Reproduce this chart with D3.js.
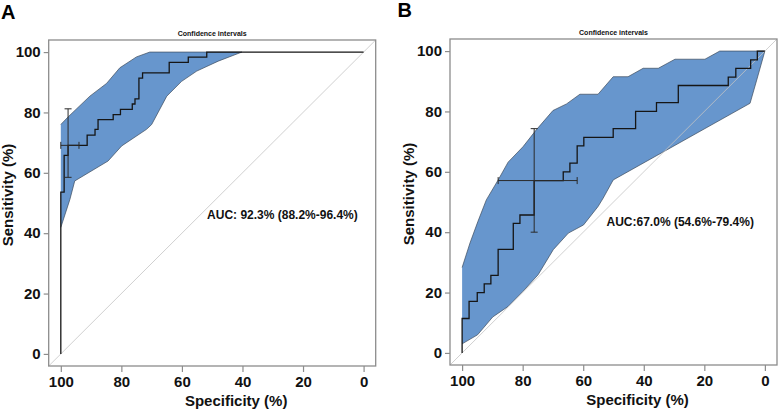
<!DOCTYPE html>
<html>
<head>
<meta charset="utf-8">
<script src="https://cdn.jsdelivr.net/npm/d3@7"></script>
<style>
  body { margin: 0; background: #fff; }
  svg { display: block; font-family: "Liberation Sans", Arial, sans-serif; }
</style>
</head>
<body>
<div id="chart"></div>
<script>
// ---- data (in %) ----
let specTicks = [100, 80, 60, 40, 20, 0];
let sensTicks = [0, 20, 40, 60, 80, 100];

// panel A : ROC step corners
let rocASpec = [100, 100, 98.9, 97.6, 91.3, 88.7, 87.7, 82.7, 80.3, 76.4, 75.5, 74.2, 73.0, 64.2, 57.9, 51.8, 0];
let rocASens = [0, 53.6, 65.8, 69.1, 72.5, 74.4, 77.6, 79.3, 81.0, 82.8, 84.5, 91.4, 93.1, 96.6, 98.3, 100, 100];
// panel A : confidence band
let ciAUpperSpec = [100, 97.6, 90.4, 84.9, 80.5, 75.0, 70.6, 40.2];
let ciAUpperSens = [76.0, 78.5, 85.4, 89.6, 94.8, 98.4, 100, 100];
let ciALowerSpec = [100, 97.0, 95.4, 84.4, 79.9, 71.7, 70.0, 65.0, 60.1, 55.1, 48.0, 40.2];
let ciALowerSens = [41.9, 51.2, 57.3, 63.9, 68.9, 74.4, 76.0, 85.4, 90.3, 93.7, 97.0, 100];
// panel A : best threshold with its intervals
let bestA = { spec: 97.6, sens: 69.1, specLo: 94.0, specHi: 100, sensLo: 58.5, sensHi: 81.2 };
let aucA = "AUC: 92.3% (88.2%-96.4%)";

// panel B : ROC step corners
let rocBSpec = [100, 100, 97.7, 95.0, 92.7, 90.5, 88.1, 83.1, 80.9, 76.2, 66.6, 64.4, 62.0, 59.8, 50.1, 42.7, 35.8, 28.6, 12.1, 9.6, 4.7, 2.5, 0];
let rocBSens = [0, 11.4, 17.1, 20.0, 22.9, 25.7, 34.3, 42.9, 45.7, 57.1, 60.0, 62.9, 68.6, 71.4, 74.3, 80.0, 82.9, 88.6, 91.4, 94.3, 97.1, 100, 100];
// panel B : confidence band
let ciBUpperSpec = [100, 97.4, 94.8, 92.0, 88.1, 84.8, 79.9, 75.5, 70.0, 65.5, 61.1, 55.1, 50.1, 45.2, 40.2, 35.2, 29.7, 19.8, 14.9, 0];
let ciBUpperSens = [28.3, 36.4, 43.5, 50.7, 57.3, 63.2, 68.3, 73.9, 80.3, 82.5, 85.7, 85.7, 91.5, 91.5, 94.3, 94.3, 97.3, 97.3, 100, 100];
let ciBLowerSpec = [100, 94.9, 89.9, 84.8, 79.9, 74.9, 69.9, 64.9, 59.9, 55.1, 53.4, 50.1, 4.9, 2.7, 0];
let ciBLowerSens = [3.0, 6.0, 11.9, 15.4, 20.4, 25.9, 34.2, 39.7, 42.4, 48.5, 51.3, 57.3, 82.7, 90.4, 100];
let bestB = { spec: 76.2, sens: 57.1, specLo: 62.0, specHi: 88.1, sensLo: 40.0, sensHi: 74.3 };
let aucB = "AUC:67.0% (54.6%-79.4%)";

// ---- layout ----
let width = 778, height = 412;
let bandFill = "#6796cd";
let svg = null;

let panels = [
  { letter: "A", letterX: 1, letterY: 18.5, box: { left: 48.7, right: 375.7, top: 40, bottom: 366 },
    rocSpec: rocASpec, rocSens: rocASens,
    upSpec: ciAUpperSpec, upSens: ciAUpperSens, loSpec: ciALowerSpec, loSens: ciALowerSens,
    best: bestA, auc: aucA, aucX: 51.7, aucY: 44.6 },
  { letter: "B", letterX: 397.5, letterY: 17, box: { left: 450, right: 777, top: 39, bottom: 365 },
    rocSpec: rocBSpec, rocSens: rocBSens,
    upSpec: ciBUpperSpec, upSens: ciBUpperSens, loSpec: ciBLowerSpec, loSens: ciBLowerSens,
    best: bestB, auc: aucB, aucX: 52.3, aucY: 42.0 }
];

appendSvg();
panels.forEach(drawPanel);

function appendSvg() {
  svg = d3.select("#chart")
    .append("svg")
    .attr("width", width)
    .attr("height", height);
  svg.append("rect").attr("width", width).attr("height", height).attr("fill", "#fff");
}

function drawPanel(p) {
  let b = p.box;
  let x = d3.scaleLinear().domain([104, -4]).range([b.left, b.right]);
  let y = d3.scaleLinear().domain([-4, 104]).range([b.bottom, b.top]);
  let g = svg.append("g").attr("class", "panel");

  // confidence band
  let band = p.upSpec.map((s, i) => [s, p.upSens[i]])
    .concat(p.loSpec.map((s, i) => [s, p.loSens[i]]).reverse());
  g.append("path")
    .datum(band)
    .attr("d", d3.line().x(d => x(d[0])).y(d => y(d[1])) )
    .attr("fill", bandFill)
    .attr("stroke", "#3c4a5c")
    .attr("stroke-width", 0.7)
    .attr("stroke-linejoin", "round");

  // chance diagonal, corner to corner
  g.append("line")
    .attr("x1", x(104)).attr("y1", y(-4))
    .attr("x2", x(-4)).attr("y2", y(104))
    .attr("stroke", "#c4c4c4")
    .attr("stroke-width", 0.8);

  // roc curve
  let roc = p.rocSpec.map((s, i) => [s, p.rocSens[i]]);
  g.append("path")
    .datum(roc)
    .attr("d", d3.line().x(d => x(d[0])).y(d => y(d[1])).curve(d3.curveStepAfter))
    .attr("fill", "none")
    .attr("stroke", "#151515")
    .attr("stroke-width", 1.3);

  // error bars at best threshold
  let e = p.best, cap = 3.5;
  let eb = g.append("g").attr("stroke", "#2a2a2a").attr("stroke-width", 1);
  eb.append("line").attr("x1", x(e.spec)).attr("x2", x(e.spec)).attr("y1", y(e.sensLo)).attr("y2", y(e.sensHi));
  [e.sensLo, e.sensHi].forEach(v => {
    eb.append("line").attr("x1", x(e.spec) - cap).attr("x2", x(e.spec) + cap).attr("y1", y(v)).attr("y2", y(v));
  });
  eb.append("line").attr("x1", x(e.specHi)).attr("x2", x(e.specLo)).attr("y1", y(e.sens)).attr("y2", y(e.sens));
  [e.specLo, e.specHi].forEach(v => {
    eb.append("line").attr("x1", x(v)).attr("x2", x(v)).attr("y1", y(e.sens) - cap).attr("y2", y(e.sens) + cap);
  });

  // frame
  g.append("rect")
    .attr("x", b.left).attr("y", b.top)
    .attr("width", b.right - b.left).attr("height", b.bottom - b.top)
    .attr("fill", "none")
    .attr("stroke", "#8c8c8c")
    .attr("stroke-width", 1.3);

  // axes
  let xAxis = g.append("g")
    .attr("transform", "translate(0," + b.bottom + ")")
    .call(d3.axisBottom(x).tickValues(specTicks).tickSize(6).tickPadding(4).tickFormat(d3.format("d")));
  let yAxis = g.append("g")
    .attr("transform", "translate(" + b.left + ",0)")
    .call(d3.axisLeft(y).tickValues(sensTicks).tickSize(5).tickPadding(3).tickFormat(d3.format("d")));
  [xAxis, yAxis].forEach(a => {
    a.select(".domain").remove();
    a.selectAll(".tick line").attr("stroke", "#8c8c8c").attr("stroke-width", 1.2);
    a.selectAll(".tick text")
      .attr("fill", "#111")
      .style("font-size", "15px")
      .style("font-weight", "bold")
      .style("font-family", "'Liberation Sans', Arial, sans-serif");
  });

  let cx = (b.left + b.right) / 2, cy = (b.top + b.bottom) / 2;

  g.append("text")
    .attr("x", cx).attr("y", b.top - 4.5)
    .attr("text-anchor", "middle")
    .style("font-size", "7px").style("font-weight", "bold")
    .attr("fill", "#111")
    .text("Confidence intervals");

  g.append("text")
    .attr("x", cx + 24).attr("y", b.bottom + 40)
    .attr("text-anchor", "middle")
    .style("font-size", "15px").style("font-weight", "bold")
    .attr("fill", "#111")
    .text("Specificity (%)");

  g.append("text")
    .attr("transform", "translate(" + (b.left - 36) + "," + (cy - 8) + ") rotate(-90)")
    .attr("text-anchor", "middle")
    .style("font-size", "15px").style("font-weight", "bold")
    .attr("fill", "#111")
    .text("Sensitivity (%)");

  g.append("text")
    .attr("x", x(p.aucX)).attr("y", y(p.aucY))
    .style("font-size", "12px").style("font-weight", "bold")
    .attr("fill", "#111")
    .text(p.auc);

  g.append("text")
    .attr("x", p.letterX).attr("y", p.letterY)
    .style("font-size", "20px").style("font-weight", "bold")
    .attr("fill", "#000")
    .text(p.letter);
}
</script>
</body>
</html>
